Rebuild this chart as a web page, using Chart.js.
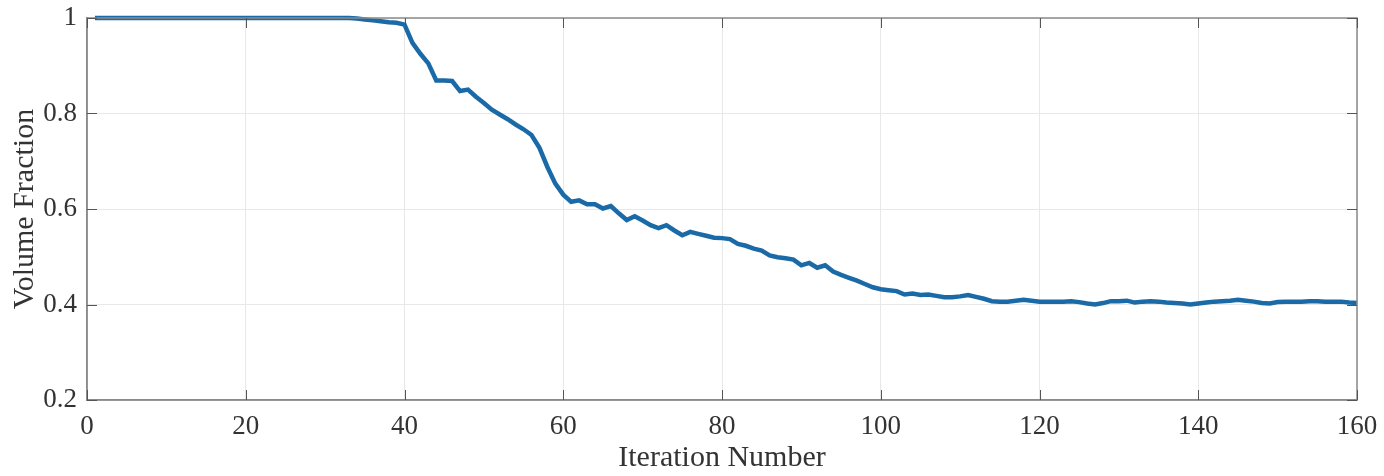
<!DOCTYPE html>
<html>
<head>
<meta charset="utf-8">
<script src="https://cdn.jsdelivr.net/npm/chart.js@4.4.1/dist/chart.umd.min.js"></script>
<style>
  html, body { margin: 0; padding: 0; background: #fff; }
  .canvas-container { width: 1384px; height: 476px; }
</style>
</head>
<body>
<div class="canvas-container"><canvas id="myChart"></canvas></div>
<script>
// iteration numbers (x) and volume fraction
const iterations = [
    1, 2, 3, 4, 5, 6, 7, 8, 9, 10, 11, 12, 13, 14, 15, 16, 17, 18, 19, 20,
    21, 22, 23, 24, 25, 26, 27, 28, 29, 30, 31, 32, 33, 34, 35, 36, 37, 38, 39, 40,
    41, 42, 43, 44, 45, 46, 47, 48, 49, 50, 51, 52, 53, 54, 55, 56, 57, 58, 59, 60,
    61, 62, 63, 64, 65, 66, 67, 68, 69, 70, 71, 72, 73, 74, 75, 76, 77, 78, 79, 80,
    81, 82, 83, 84, 85, 86, 87, 88, 89, 90, 91, 92, 93, 94, 95, 96, 97, 98, 99, 100,
    101, 102, 103, 104, 105, 106, 107, 108, 109, 110, 111, 112, 113, 114, 115, 116, 117, 118, 119, 120,
    121, 122, 123, 124, 125, 126, 127, 128, 129, 130, 131, 132, 133, 134, 135, 136, 137, 138, 139, 140,
    141, 142, 143, 144, 145, 146, 147, 148, 149, 150, 151, 152, 153, 154, 155, 156, 157, 158, 159, 160
];

const volumeFraction = [
    1, 1, 1, 1, 1, 1, 1, 1, 1, 1, 1, 1, 1, 1, 1, 1, 1, 1, 1, 1,
    1, 1, 1, 1, 1, 1, 1, 1, 1, 1, 1, 1, 1, 0.999, 0.997, 0.995, 0.993, 0.991, 0.990, 0.986,
    0.948, 0.925, 0.905, 0.869, 0.869, 0.868, 0.847, 0.850, 0.835, 0.822,
    0.808, 0.798, 0.788, 0.777, 0.767, 0.755, 0.728, 0.688, 0.653, 0.630,
    0.615, 0.618, 0.610, 0.610, 0.601, 0.606, 0.591, 0.577, 0.585, 0.576,
    0.566, 0.560, 0.566, 0.555, 0.545, 0.552, 0.548, 0.544, 0.540, 0.539,
    0.537, 0.527, 0.523, 0.517, 0.513, 0.503, 0.499, 0.497, 0.494, 0.482,
    0.487, 0.477, 0.482, 0.469, 0.462, 0.456, 0.450, 0.443, 0.436, 0.432,
    0.430, 0.428, 0.421, 0.423, 0.420, 0.421, 0.418, 0.415, 0.415, 0.417,
    0.420, 0.416, 0.412, 0.407, 0.406, 0.406, 0.408, 0.410, 0.408, 0.406,
    0.406, 0.406, 0.406, 0.407, 0.405, 0.402, 0.400, 0.403, 0.407, 0.407,
    0.408, 0.404, 0.406, 0.407, 0.406, 0.404, 0.403, 0.402, 0.400, 0.402,
    0.404, 0.406, 0.407, 0.408, 0.410, 0.408, 0.406, 0.403, 0.402, 0.405,
    0.406, 0.406, 0.406, 0.407, 0.407, 0.406, 0.406, 0.406, 0.404, 0.403
];

const xTitle = 'Iteration Number';
const yTitle = 'Volume Fraction';

const points = iterations.map((it, i) => ({ x: it, y: volumeFraction[i] }));

// box around the axes plus short inward ticks, like a matlab plot
const boxPlugin = {
    id: 'box',
    afterDatasetsDraw(chart) {
        const { ctx, chartArea: a, scales } = chart;
        ctx.save();
        ctx.strokeStyle = '#8a8a8a';
        ctx.lineWidth = 1.5;
        ctx.strokeRect(a.left, a.top, a.right - a.left, a.bottom - a.top);
        ctx.strokeStyle = '#555';
        ctx.lineWidth = 1;
        ctx.beginPath();
        scales.x.ticks.forEach(t => {
            const px = Math.round(scales.x.getPixelForValue(t.value)) + 0.5;
            ctx.moveTo(px, a.bottom); ctx.lineTo(px, a.bottom - 10);
            ctx.moveTo(px, a.top); ctx.lineTo(px, a.top + 10);
        });
        scales.y.ticks.forEach(t => {
            const py = Math.round(scales.y.getPixelForValue(t.value)) + 0.5;
            ctx.moveTo(a.left, py); ctx.lineTo(a.left + 10, py);
            ctx.moveTo(a.right, py); ctx.lineTo(a.right - 10, py);
        });
        ctx.stroke();
        ctx.restore();
    }
};

const ctx = document.querySelector('#myChart');

const myChart = new Chart(ctx, {
    type: 'line',
    data: {
        datasets: [{
            label: yTitle,
            data: points,
            borderColor: '#1a6aa8',
            backgroundColor: 'transparent',
            borderWidth: 4.5,
            pointRadius: 0,
            tension: 0,
            clip: false
        }]
    },
    options: {
        responsive: true,
        maintainAspectRatio: false,
        animation: false,
        layout: { padding: { top: 18, right: 27, bottom: 0, left: 0 } },
        plugins: {
            legend: { display: false },
            tooltip: { enabled: false }
        },
        scales: {
            x: {
                type: 'linear',
                min: 0,
                max: 160,
                ticks: {
                    stepSize: 20,
                    padding: 11,
                    color: '#333',
                    font: { family: 'Liberation Serif', size: 27 }
                },
                grid: { color: '#e8e8e8', drawTicks: false },
                border: { color: '#8a8a8a', width: 1.5 },
                title: {
                    display: true,
                    text: xTitle,
                    color: '#333',
                    font: { family: 'Liberation Serif', size: 30 },
                    padding: { top: 0, bottom: 0 }
                },
                afterFit: s => { s.height = 76; s.paddingLeft = 0; s.paddingRight = 0; }
            },
            y: {
                min: 0.2,
                max: 1,
                ticks: {
                    stepSize: 0.2,
                    padding: 10,
                    color: '#333',
                    font: { family: 'Liberation Serif', size: 27 },
                    callback: v => String(+v.toFixed(1))
                },
                grid: { color: '#e8e8e8', drawTicks: false },
                border: { color: '#8a8a8a', width: 1.5 },
                title: {
                    display: true,
                    text: yTitle,
                    color: '#333',
                    font: { family: 'Liberation Serif', size: 30 },
                    padding: { top: 7, bottom: 0 }
                },
                afterFit: s => { s.width = 87; s.paddingTop = 0; s.paddingBottom = 0; }
            }
        }
    },
    plugins: [boxPlugin]
});
</script>
</body>
</html>
